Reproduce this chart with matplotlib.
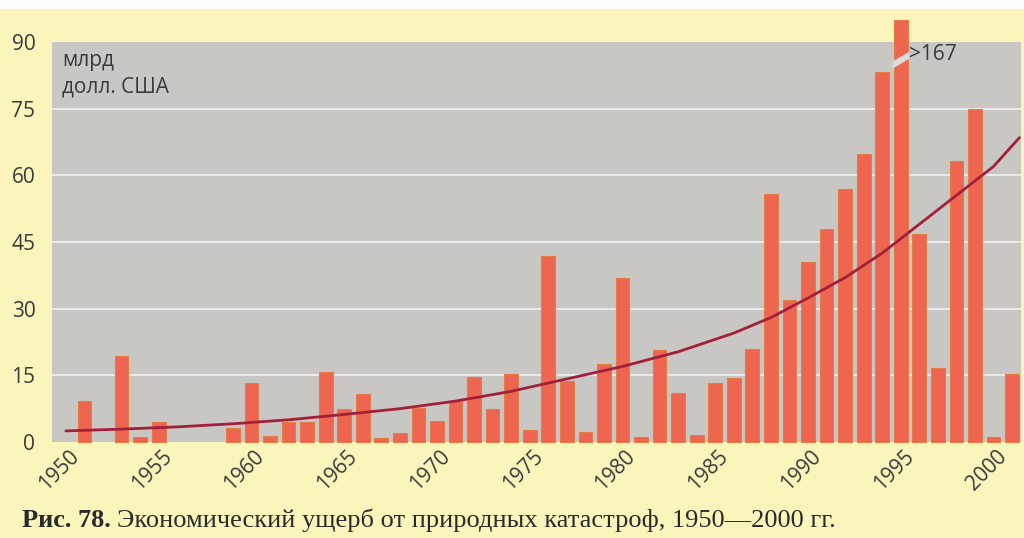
import matplotlib.pyplot as plt
import matplotlib.transforms as mtransforms
from matplotlib.patches import Polygon, Rectangle
import numpy as np

# ущерб по годам, млрд долл. США (1995 г. — больше 167, столбик обрезан)
years = [1951, 1953, 1954, 1955, 1959, 1960, 1961, 1962, 1963, 1964,
         1965, 1966, 1967, 1968, 1969, 1970, 1971, 1972, 1973, 1974,
         1975, 1976, 1977, 1978, 1979, 1980, 1981, 1982, 1983, 1984,
         1985, 1986, 1987, 1988, 1989, 1990, 1991, 1992, 1993, 1994,
         1995, 1996, 1997, 1998, 1999, 2000, 2001]
losses = [9.3, 19.3, 1.1, 4.5, 3.2, 13.3, 1.3, 4.5, 4.6, 15.8,
          7.4, 10.7, 0.8, 2.1, 7.6, 4.7, 9.2, 14.6, 7.4, 15.3,
          2.7, 41.8, 13.8, 2.3, 17.5, 36.9, 1.2, 20.7, 11.1, 1.6,
          13.3, 14.5, 20.9, 55.7, 31.9, 40.4, 48.0, 56.9, 64.8, 83.3,
          167, 46.9, 16.7, 63.3, 75.0, 1.2, 15.3]

# линия тренда
trend_years = [1950, 1953, 1956, 1959, 1962, 1965, 1968, 1971, 1974, 1977,
               1980, 1983, 1986, 1988, 1990, 1992, 1994, 1996, 1998, 2000, 2001.4]
trend_vals = [2.5, 2.9, 3.4, 4.1, 5.0, 6.2, 7.5, 9.2, 11.4, 14.2,
              17.0, 20.3, 24.5, 28.0, 32.4, 37.0, 42.5, 49.0, 55.5, 62.0, 68.5]

xtick_years = list(range(1950, 2001, 5))
yticks = [0, 15, 30, 45, 60, 75, 90]
cap = 95  # высота обрезанного столбика

yellow = '#faf5bb'
panel = '#c8c7c4'
bar_color = '#ee6650'
bar_edge = '#e67c45'
line_color = '#a31f3a'
text_color = '#3a3a3a'

plt.rcParams['font.family'] = ['Open Sans', 'DejaVu Sans']

fig = plt.figure(figsize=(10.24, 5.38), dpi=100, facecolor=yellow)
fig.patches.append(Rectangle((0, 1 - 9 / 538), 1, 9 / 538, transform=fig.transFigure,
                             facecolor='white', edgecolor='none', zorder=0))
ax = fig.add_axes([52 / 1024, 1 - 442 / 538, 969 / 1024, 400 / 538])
ax.set_facecolor(panel)
for s in ax.spines.values():
    s.set_visible(False)

ax.set_xlim(1949.25, 2001.48)
ax.set_ylim(0, 90)

for v in yticks[1:-1]:
    ax.axhline(v, color='#ededed', lw=1.4, zorder=1)

vals = np.minimum(np.array(losses, dtype=float), cap)
ax.bar(years, vals, width=0.74, color=bar_color, edgecolor=bar_edge,
       linewidth=0.8, zorder=2, clip_on=False)

# разрыв на столбике 1995 г.
brk = Polygon([(1994.55, 84.0), (1995.45, 86.2), (1995.45, 87.8), (1994.55, 85.6)],
              closed=True, facecolor='#dcdcda', edgecolor='none', zorder=3, clip_on=False)
ax.add_patch(brk)
ax.text(1995.45, 87.3, '>167', fontsize=15, color=text_color, va='center', ha='left', zorder=4)

ax.plot(trend_years, trend_vals, color=line_color, lw=2, zorder=3,
        solid_capstyle='round', solid_joinstyle='round')

ax.text(0.0103, 0.98, 'млрд\nдолл. США', transform=ax.transAxes, fontsize=15,
        color=text_color, va='top', ha='left', linespacing=1.35)

ax.set_yticks(yticks)
ax.set_yticklabels([str(v) for v in yticks], fontsize=15, color=text_color)
ax.set_xticks(xtick_years)
ax.set_xticklabels([str(y) for y in xtick_years], fontsize=15, color=text_color,
                   rotation=45, ha='center', va='top')
ax.tick_params(axis='both', length=0)
ax.tick_params(axis='y', pad=12)
ax.tick_params(axis='x', pad=3)
shift = mtransforms.ScaledTranslation(-7 / 100, 0, fig.dpi_scale_trans)
for lbl in ax.get_xticklabels():
    lbl.set_transform(lbl.get_transform() + shift)

# подпись к рисунку
fig.canvas.draw()
r = fig.canvas.get_renderer()
t1 = fig.text(22 / 1024, 1 - 527 / 538, 'Рис. 78.', family='Liberation Serif',
              fontweight='bold', fontsize=19, color='#2a2a2a', va='baseline')
bb = t1.get_window_extent(renderer=r)
fig.text((bb.x1 + 6) / 1024, 1 - 527 / 538,
         'Экономический ущерб от природных катастроф, 1950—2000 гг.',
         family='Liberation Serif', fontsize=19, color='#2a2a2a', va='baseline')

fig.savefig('out.png', dpi=100, facecolor=yellow)
